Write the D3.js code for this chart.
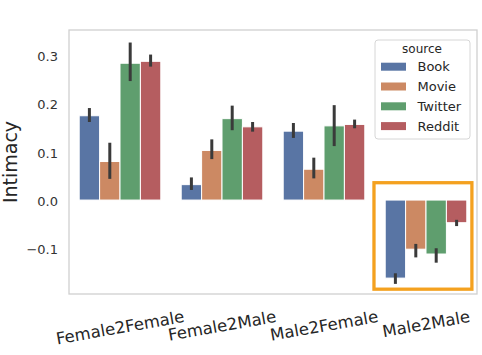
<!DOCTYPE html>
<html>
<head>
<meta charset="utf-8">
<script src="https://cdn.jsdelivr.net/npm/d3@7"></script>
<style>
  html, body { margin: 0; padding: 0; background: #fff; }
  svg { display: block; font-family: "DejaVu Sans", sans-serif; }
</style>
</head>
<body>
<svg id="chart" width="482" height="355"></svg>
<script>
// ---- data ----
const categories = ["Female2Female", "Female2Male", "Male2Female", "Male2Male"];
const sources = ["Book", "Movie", "Twitter", "Reddit"];
const colors = ["#5975a4", "#cc8963", "#5f9e6e", "#b55d60"];

const bookMean    = [0.175, 0.032, 0.143, -0.162];
const bookLow     = [0.162, 0.021, 0.129, -0.174];
const bookHigh    = [0.191, 0.047, 0.160, -0.152];
const movieMean   = [0.080, 0.103, 0.064, -0.102];
const movieLow    = [0.044, 0.085, 0.045, -0.119];
const movieHigh   = [0.119, 0.126, 0.088, -0.091];
const twitterMean = [0.284, 0.169, 0.154, -0.112];
const twitterLow  = [0.247, 0.145, 0.112, -0.130];
const twitterHigh = [0.327, 0.196, 0.197, -0.100];
const redditMean  = [0.288, 0.152, 0.157, -0.047];
const redditLow   = [0.277, 0.142, 0.149, -0.054];
const redditHigh  = [0.302, 0.162, 0.167, -0.041];

const yTicks = [-0.1, 0.0, 0.1, 0.2, 0.3];
const yTickLabels = ["\u22120.1", "0.0", "0.1", "0.2", "0.3"];
const yLabel = "Intimacy";
const legendTitle = "source";

// highlighted group (annotation box, in category / data units)
const highlightCategory = "Male2Male";
const highlightSpan = [-0.51, 0.45];   // relative to category centre, in category steps
const highlightValues = [0.036, -0.185];

// ---- build table ----
const means = [bookMean, movieMean, twitterMean, redditMean];
const lows = [bookLow, movieLow, twitterLow, redditLow];
const highs = [bookHigh, movieHigh, twitterHigh, redditHigh];
const rows = [];
categories.forEach((c, i) => {
  sources.forEach((s, j) => {
    rows.push({ cat: c, src: s, v: means[j][i], lo: lows[j][i], hi: highs[j][i], color: colors[j] });
  });
});

// ---- layout ----
const svg = d3.select("#chart");
const plot = { left: 69, right: 477, top: 30, bottom: 294 };

const x0 = d3.scaleBand().domain(categories).range([plot.left, plot.right])
  .paddingInner(0.2).paddingOuter(0.1);
const x1 = d3.scaleBand().domain(sources).range([0, x0.bandwidth()]).padding(0);
const y = d3.scaleLinear().domain([-0.195, 0.353]).range([plot.bottom, plot.top]);

// bars
svg.append("g").selectAll("rect").data(rows).join("rect")
  .attr("x", d => x0(d.cat) + x1(d.src))
  .attr("width", x1.bandwidth())
  .attr("y", d => y(Math.max(0, d.v)))
  .attr("height", d => Math.abs(y(d.v) - y(0)))
  .attr("fill", d => d.color)
  .attr("stroke", "#ffffff")
  .attr("stroke-width", 1);

// error bars
svg.append("g").selectAll("line").data(rows).join("line")
  .attr("x1", d => x0(d.cat) + x1(d.src) + x1.bandwidth() / 2)
  .attr("x2", d => x0(d.cat) + x1(d.src) + x1.bandwidth() / 2)
  .attr("y1", d => y(d.lo))
  .attr("y2", d => y(d.hi))
  .attr("stroke", "#3a3a3a")
  .attr("stroke-width", 3);

// frame
svg.append("rect")
  .attr("x", plot.left).attr("y", plot.top)
  .attr("width", plot.right - plot.left).attr("height", plot.bottom - plot.top)
  .attr("fill", "none").attr("stroke", "#d0d0d0").attr("stroke-width", 1.3);

// y axis tick labels
const yAxis = d3.axisLeft(y).tickValues(yTicks)
  .tickFormat((d, i) => yTickLabels[i]).tickSize(0).tickPadding(11);
const gy = svg.append("g").attr("transform", `translate(${plot.left},1)`).call(yAxis);
gy.select(".domain").remove();
gy.selectAll("text").attr("font-size", 13).attr("fill", "#333")
  .attr("font-family", "DejaVu Sans, sans-serif");

// y label
svg.append("text")
  .attr("transform", `translate(17,${(plot.top + plot.bottom) / 2}) rotate(-90)`)
  .attr("text-anchor", "middle")
  .attr("font-size", 19).attr("fill", "#262626")
  .text(yLabel);

// x tick labels, rotated 10 degrees
const rot = 10, th = rot * Math.PI / 180, fsX = 16.5, labelTop = 309.5;
const gx = svg.append("g");
categories.forEach(c => {
  const cx = x0(c) + x0.bandwidth() / 2;
  const t = gx.append("text").attr("font-size", fsX).attr("fill", "#262626")
    .attr("text-anchor", "middle").text(c);
  const w = t.node().getComputedTextLength();
  const inkH = 0.76 * fsX;
  const yc = labelTop + (w * Math.sin(th) + inkH * Math.cos(th)) / 2;
  t.attr("x", cx).attr("y", yc + 0.38 * fsX)
   .attr("transform", `rotate(${-rot},${cx},${yc})`);
});

// highlight box
const step = x0.step();
const hc = x0(highlightCategory) + x0.bandwidth() / 2;
svg.append("rect")
  .attr("x", hc + highlightSpan[0] * step)
  .attr("y", y(highlightValues[0]))
  .attr("width", (highlightSpan[1] - highlightSpan[0]) * step)
  .attr("height", y(highlightValues[1]) - y(highlightValues[0]))
  .attr("fill", "none").attr("stroke", "#f4a11f").attr("stroke-width", 3.3);

// legend
const lg = svg.append("g").attr("transform", "translate(375,40)");
lg.append("rect").attr("x", 0).attr("y", 0).attr("width", 95).attr("height", 99)
  .attr("rx", 3).attr("fill", "#ffffff").attr("fill-opacity", 0.85)
  .attr("stroke", "#d6d6d6").attr("stroke-width", 1);
lg.append("text").attr("x", 47).attr("y", 8.5).attr("dy", "0.35em")
  .attr("text-anchor", "middle").attr("font-size", 12).attr("fill", "#262626")
  .text(legendTitle);
sources.forEach((s, j) => {
  const ry = 26.7 + j * 19.8;
  lg.append("rect").attr("x", 6).attr("y", ry - 4).attr("width", 25).attr("height", 8)
    .attr("fill", colors[j]);
  lg.append("text").attr("x", 42.5).attr("y", ry).attr("dy", "0.35em")
    .attr("font-size", 13).attr("fill", "#262626").text(s);
});
</script>
</body>
</html>
